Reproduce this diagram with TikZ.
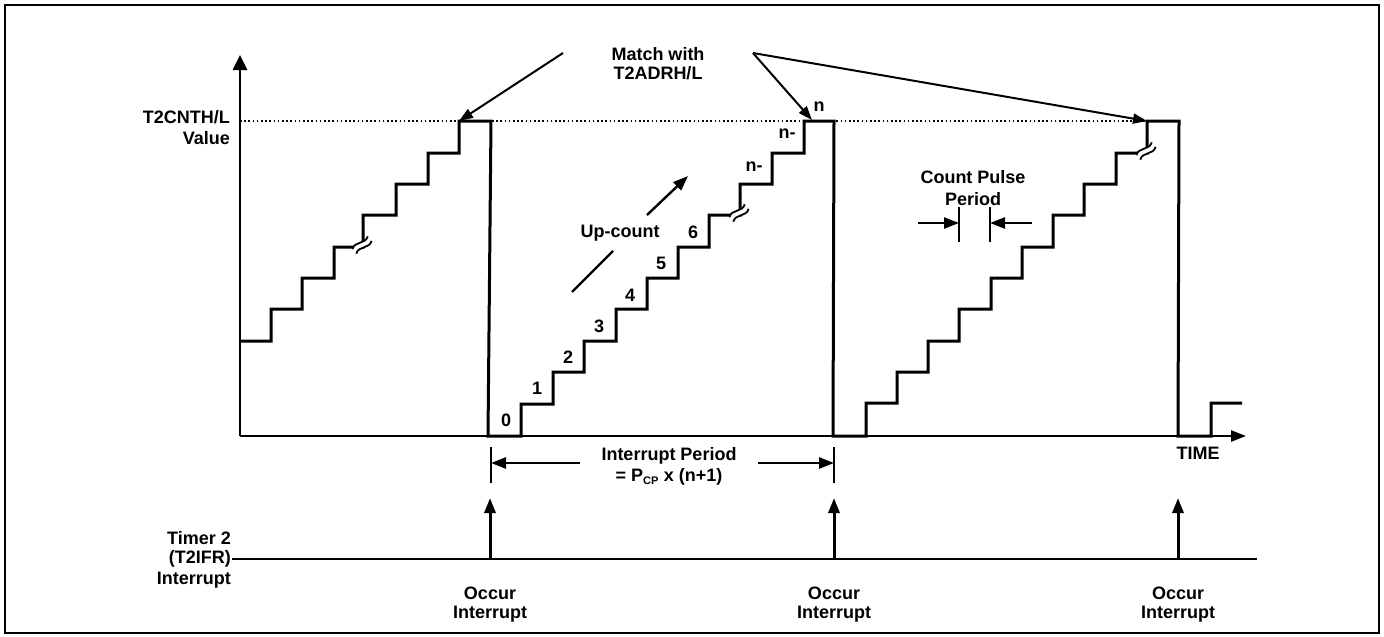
\documentclass[tikz,border=0pt]{standalone}
\usepackage{fontspec}
\setmainfont{Liberation Sans}
\usetikzlibrary{arrows.meta}
\tikzset{
  lbl/.style={font=\fontsize{18}{20}\selectfont\bfseries, inner sep=0pt},
  stair/.style={line width=3pt, line join=miter, line cap=butt},
  yaxisline/.style={line width=2.6pt, -{Triangle[length=15pt,width=14pt]}},
  xaxisline/.style={line width=2.6pt, -{Triangle[length=15pt,width=11pt]}},
  ptr/.style={line width=2pt, -{Triangle[length=14pt,width=10pt]}},
  dimarrow/.style={line width=2.4pt, -{Triangle[length=15pt,width=11pt]}},
  tick/.style={line width=1.6pt},
  occur/.style={line width=3pt, -{Triangle[length=15pt,width=11pt]}},
  limit/.style={line width=1.5pt, dash pattern=on 1.6pt off 2.6pt},
}
\newcommand\brkmark[1]{%
  \begin{scope}[shift={(#1)}, rotate=40]
    \draw[white, line width=5.5pt] (-10,0) .. controls (-3,-5) and (3,5) .. (10,0);
    \draw[line width=1.8pt] (-10,-3) .. controls (-3,-8) and (3,2) .. (10,-3);
    \draw[line width=1.8pt] (-10,3) .. controls (-3,-2) and (3,8) .. (10,3);
  \end{scope}}
\begin{document}
\begin{tikzpicture}[x=1pt,y=-1pt]
\useasboundingbox (0,0) rectangle (1384,637);
\draw[line width=2pt] (5,5) rectangle (1379,633);

% coordinates
\coordinate (O) at (240,436);
\coordinate (Ytop) at (240,55);
\coordinate (Xend) at (1246,436);
\coordinate (LimL) at (240,121);
\coordinate (LimR) at (1147,121);
\coordinate (M1) at (459,121);
\coordinate (M2) at (812,120);
\coordinate (M3) at (1147,121);
\coordinate (MsL) at (563,53);
\coordinate (MsR) at (753,53);

% limit line
\draw[limit] (LimL) -- (LimR);

% axes
\draw[yaxisline] (O) -- (Ytop);
\draw[xaxisline] (O) -- (Xend);

% counter waveform
\draw[stair] (240,341) -- (271,341) -- (271,309) -- (302,309) -- (302,278) -- (334,278)
  -- (334,247) -- (363,247) -- (363,215) -- (396,215) -- (396,184) -- (428,184)
  -- (428,153) -- (459,153) -- (459,121) -- (491,121) -- (488,436)
  -- (521,436) -- (521,404) -- (553,404) -- (553,372) -- (584,372) -- (584,341)
  -- (616,341) -- (616,309) -- (647,309) -- (647,278) -- (678,278) -- (678,247)
  -- (709,247) -- (709,215) -- (740,215) -- (740,184) -- (772,184) -- (772,153)
  -- (804,153) -- (804,121) -- (834,121) -- (833,436)
  -- (866,436) -- (866,403) -- (897,403) -- (897,372) -- (928,372) -- (928,341)
  -- (959,341) -- (959,309) -- (991,309) -- (991,278) -- (1022,278) -- (1022,247)
  -- (1053,247) -- (1053,215) -- (1084,215) -- (1084,184) -- (1116,184) -- (1116,153)
  -- (1147,153) -- (1147,121) -- (1179,121) -- (1178,436)
  -- (1211,436) -- (1211,403) -- (1242,403);

\brkmark{362,245}
\brkmark{739,213}
\brkmark{1146,151}

% labels
\node[lbl, anchor=east] (cntA) at (230,117) {T2CNTH/L};
\node[lbl, anchor=east] (cntB) at (230,138) {Value};
\node[lbl] (match1) at (658,54) {Match with};
\node[lbl] (match2) at (658,73) {T2ADRH/L};
\draw[ptr] (MsL) -- (M1);
\draw[ptr] (MsR) -- (M2);
\draw[ptr] (MsR) -- (M3);

\node[lbl] (c0) at (506,420) {0};
\node[lbl] (c1) at (537,388) {1};
\node[lbl] (c2) at (568,357) {2};
\node[lbl] (c3) at (599,326) {3};
\node[lbl] (c4) at (630,295) {4};
\node[lbl] (c5) at (661,263) {5};
\node[lbl] (c6) at (693,232) {6};
\node[lbl] (cn2) at (754,167) {n-};
\node[lbl] (cn1) at (787,134) {n-};
\node[lbl] (cn) at (819,107) {n};

\node[lbl] (up) at (620,233) {Up-count};
\coordinate (upA) at (572,292);
\coordinate (upB) at (613,251);
\coordinate (upC) at (647,215);
\coordinate (upD) at (688,176);
\draw[line width=2.4pt] (upA) -- (upB);
\draw[dimarrow] (upC) -- (upD);

% count pulse period
\node[lbl] (cp1) at (973,177) {Count Pulse};
\node[lbl] (cp2) at (973,199) {Period};
\coordinate (cpL) at (959,223);
\coordinate (cpR) at (990,223);
\coordinate (cpLs) at (918,223);
\coordinate (cpRs) at (1032,223);
\draw[tick] (959,207) -- (959,242);
\draw[tick] (990,207) -- (990,242);
\draw[dimarrow] (cpLs) -- (cpL);
\draw[dimarrow] (cpRs) -- (cpR);

\node[lbl] (time) at (1198,453) {TIME};

% interrupt period
\node[lbl] (ip1) at (669,456) {Interrupt Period};
\node[lbl] (ip2) at (669,477) {= P\textsubscript{\fontsize{11}{11}\selectfont CP} x (n+1)};
\coordinate (ipL) at (491,463);
\coordinate (ipR) at (834,463);
\draw[tick] (491,447) -- (491,483);
\draw[tick] (834,447) -- (834,483);
\draw[dimarrow] (580,463) -- (ipL);
\draw[dimarrow] (758,463) -- (ipR);

% interrupt line
\node[lbl, anchor=east] (t1) at (231,538) {Timer 2};
\node[lbl, anchor=east] (t2) at (231,559) {(T2IFR)};
\node[lbl, anchor=east] (t3) at (231,580) {Interrupt};
\coordinate (iEnd) at (1257,559);
\draw[line width=2pt] (t2.east) ++(1,0) -- (iEnd);

\foreach \i/\x in {a/490,b/834,c/1178} {
  \coordinate (base\i) at (\x,559);
  \coordinate (top\i) at (\x,498);
  \draw[occur] (base\i) -- (top\i);
  \node[lbl] (oc\i) at (\x,593) {Occur};
  \node[lbl] (oi\i) at (\x,614) {Interrupt};
}
\end{tikzpicture}
\end{document}
